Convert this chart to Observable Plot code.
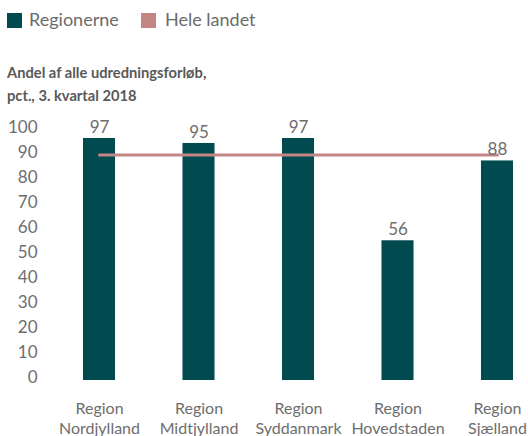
<!DOCTYPE html>
<html><head><meta charset="utf-8">
<script src="https://cdn.jsdelivr.net/npm/d3@7"></script>
<script src="https://cdn.jsdelivr.net/npm/@observablehq/plot@0.6"></script>
<style>
body{margin:0;background:#fff;font-family:Lato,sans-serif;}
#wrap{position:relative;width:528px;height:436px;overflow:hidden;}
.sw{position:absolute;width:15px;height:15px;top:13px;}
.lt{position:absolute;top:6px;font-size:18px;color:#6b6b6b;line-height:26px;white-space:nowrap;}
.title{position:absolute;left:7px;top:61px;font-size:14.7px;font-weight:bold;color:#595959;line-height:23px;}
#chart{position:absolute;left:0;top:110px;}
</style></head><body>
<div id="wrap">
<div id="legend"></div>
<div class="title" id="title"></div>
<div id="chart"></div>
</div>
<script>
const regions = ["Region\nNordjylland","Region\nMidtjylland","Region\nSyddanmark","Region\nHovedstaden","Region\nSjælland"];
const values = [97, 95, 97, 56, 88];
const national = 90.4;
const seriesNames = ["Regionerne", "Hele landet"];
const seriesColors = ["#004a50", "#c48585"];
const titleLines = ["Andel af alle udredningsforløb,", "pct., 3. kvartal 2018"];
const yTicks = [0,10,20,30,40,50,60,70,80,90,100];

const legend = document.getElementById("legend");
const legX = [[7,29],[141,165]];
seriesNames.forEach((n,i)=>{
  const s=document.createElement("div"); s.className="sw"; s.style.left=legX[i][0]+"px"; s.style.background=seriesColors[i]; legend.appendChild(s);
  const t=document.createElement("div"); t.className="lt"; t.style.left=legX[i][1]+"px"; t.textContent=n; legend.appendChild(t);
});
document.getElementById("title").innerHTML = titleLines.join("<br>");

const data = regions.map((r,i)=>({region:r, value:values[i], national}));
const textColor = "#6e6e6e";
const chart = Plot.plot({
  width:528, height:326,
  marginTop:20.5, marginBottom:56, marginLeft:40, marginRight:15,
  style:{fontFamily:"Lato, sans-serif", color:textColor, background:"white"},
  x:{domain:regions, range:[83,513], paddingInner:0.678, paddingOuter:0, round:false, label:null},
  y:{domain:[0,100], label:null},
  marks:[
    Plot.axisY({ticks:yTicks, tickSize:0, tickPadding:3, fontSize:17, dy:-3, label:null, fill:textColor}),
    Plot.axisX({tickSize:0, tickPadding:19, fontSize:16, lineHeight:1.25, label:null, fill:textColor}),
    Plot.barY(data,{x:"region", y:"value", fill:seriesColors[0]}),
    Plot.lineY(data,{x:"region", y:"national", stroke:seriesColors[1], strokeWidth:3}),
    Plot.text(data,{x:"region", y:"value", text:d=>String(d.value), dy:-11, fontSize:17, fill:textColor})
  ]
});
document.getElementById("chart").appendChild(chart);
</script>
</body></html>
